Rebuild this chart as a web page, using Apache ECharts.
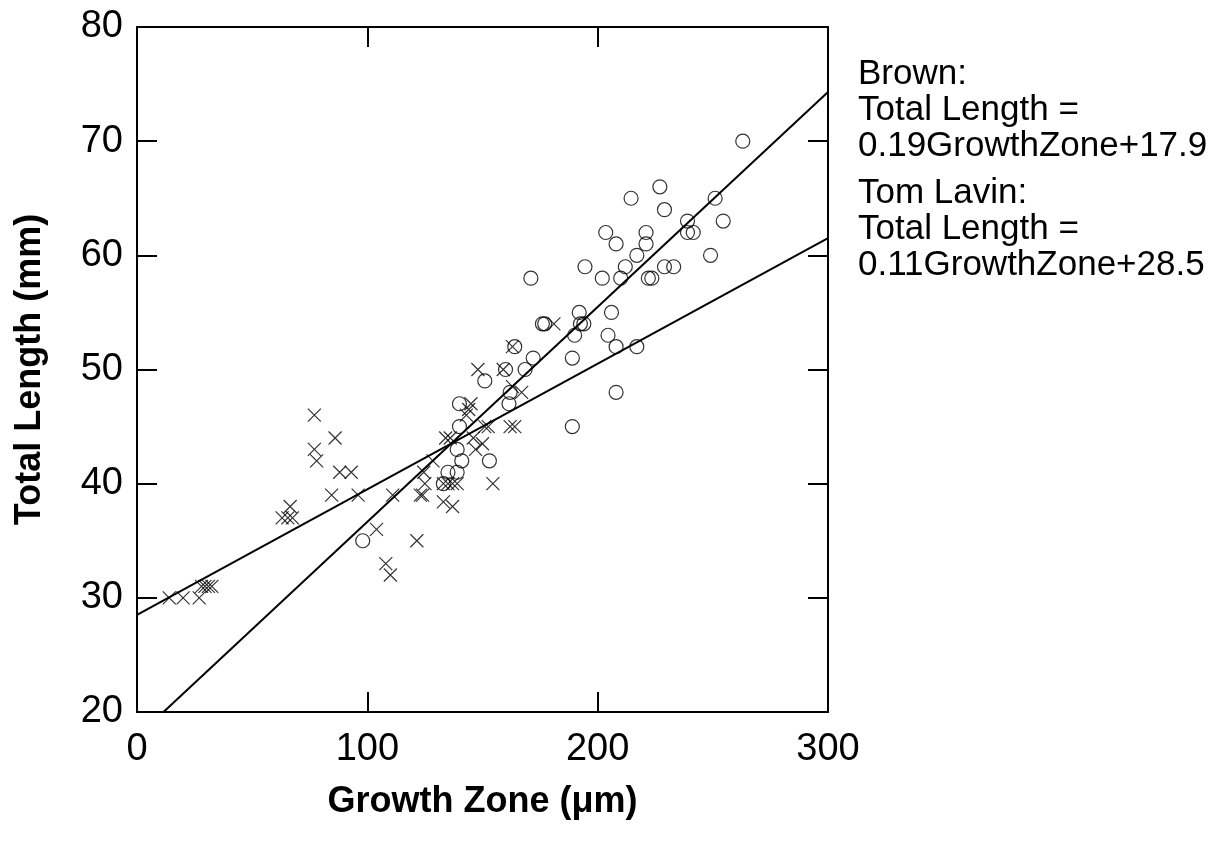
<!DOCTYPE html>
<html>
<head>
<meta charset="utf-8">
<script src="https://cdn.jsdelivr.net/npm/echarts@6/dist/echarts.min.js"></script>
<style>html,body{margin:0;padding:0;background:#fff;}#chart{width:1209px;height:850px;}</style>
</head>
<body>
<div id="chart"></div>
<script>
// Brown (circles): [growth zone, total length]
const brownPoints = [
  [98,35],[133,40],[135,41],[139,41],[141,42],[139,43],[140,45],[140,47],[153,42],[151,49],
  [160,50],[162,48],[161.5,47],[164,52],[168.5,50],[172,51],[171,58],[176,54],[177,54],[189,45],
  [189,51],[190,53],[192,55],[192.5,54],[194,54],[194.5,59],[202,58],[203.5,62],[204.5,53],[206,55],
  [208,61],[208,52],[208,48],[210,58],[212,59],[214.5,65],[217,60],[217,52],[221,62],[221,61],
  [222,58],[223.5,58],[227,66],[229,64],[229,59],[233,59],[239,63],[239,62],[241.5,62],[249,60],
  [251,65],[254.5,63],[263,70]
];
// Tom Lavin (crosses)
const tomPoints = [
  [14,30],[20,30],[27,30],[28,31],[29.5,31],[31,31],[32.5,31],
  [63,37],[65.5,37],[66.5,38],[67.5,37],
  [77,46],[77,43],[78,42],[86,44],[88,41],[93,41],[84.5,39],[96,39],[104,36],[108,33],[110,32],
  [111,39],[121.5,35],[123,39],[124,39],[124.5,41],[125,40],[128.5,42],[133,40],[133,38.4],[137,38],
  [135,40],[137,40],[139,40],[134,44],[136,44],[146,44],[147,43],[154.5,40],[143,46],[144,46.5],
  [145,47],[151,45],[152.5,45],[162,45],[164,45],[148,50],[159,50],[163,52],[163,48.5],[167,48],
  [181,54],[150,43.5]
];
// Regression lines (endpoints)
const brownFit = [[11.5,20],[300,74.3]];
const tomFit = [[0,28.5],[300,61.5]];
const xTicks = [0,100,200,300];
const yTicks = [20,30,40,50,60,70,80];
const legendLines = [
  'Brown:', 'Total Length =', '0.19GrowthZone+17.9',
  'Tom Lavin:', 'Total Length =', '0.11GrowthZone+28.5'
];

const FONT = 'Liberation Sans, Arial, sans-serif';
const chart = echarts.init(document.getElementById('chart'));
const tickStyle = {show:true, inside:true, length:20, lineStyle:{color:'#000', width:2}};
const lineStyleAxis = {show:true, onZero:false, lineStyle:{color:'#000', width:2}};
const commonX = {type:'value', min:xTicks[0], max:xTicks[xTicks.length-1], interval:100, splitLine:{show:false}, axisLine:lineStyleAxis, axisTick:tickStyle};
const commonY = {type:'value', min:yTicks[0], max:yTicks[yTicks.length-1], interval:10, splitLine:{show:false}, axisLine:lineStyleAxis, axisTick:tickStyle};

const graphics = [];
const lineTops = [57, 93, 129, 176, 212, 248];
legendLines.forEach((t,i)=>{
  graphics.push({type:'text', left:858, top:lineTops[i], style:{text:t, fill:'#000', font:'35px ' + FONT}});
});

chart.setOption({
  animation:false,
  backgroundColor:'#fff',
  grid:{left:137, top:27, width:691, height:685, containLabel:false},
  xAxis:[
    Object.assign({}, commonX, {position:'bottom',
      name:'Growth Zone (\u03bcm)', nameLocation:'middle', nameGap:72,
      nameTextStyle:{fontFamily:FONT, fontWeight:'bold', fontSize:36, color:'#000'},
      axisLabel:{show:true, margin:19, fontFamily:FONT, fontSize:38, color:'#000'}}),
    Object.assign({}, commonX, {position:'top', axisLabel:{show:false}})
  ],
  yAxis:[
    Object.assign({}, commonY, {position:'left',
      name:'Total Length (mm)', nameLocation:'middle', nameGap:89,
      nameTextStyle:{fontFamily:FONT, fontWeight:'bold', fontSize:36, color:'#000'},
      axisLabel:{show:true, margin:14, fontFamily:FONT, fontSize:38, color:'#000'}}),
    Object.assign({}, commonY, {position:'right', axisLabel:{show:false}})
  ],
  graphic: graphics,
  series:[
    {type:'line', data:brownFit, symbol:'none', lineStyle:{color:'#000', width:2}, z:3},
    {type:'line', data:tomFit, symbol:'none', lineStyle:{color:'#000', width:2}, z:3},
    {type:'scatter', data:brownPoints, symbol:'circle', symbolSize:14,
      itemStyle:{color:'rgba(0,0,0,0)', borderColor:'#000', borderWidth:1.2}, z:4},
    {type:'scatter', data:tomPoints, symbol:'path://M0,0L10,10M10,0L0,10', symbolSize:13,
      itemStyle:{color:'rgba(0,0,0,0)', borderColor:'#000', borderWidth:1.2}, z:4}
  ]
});
</script>
</body>
</html>
